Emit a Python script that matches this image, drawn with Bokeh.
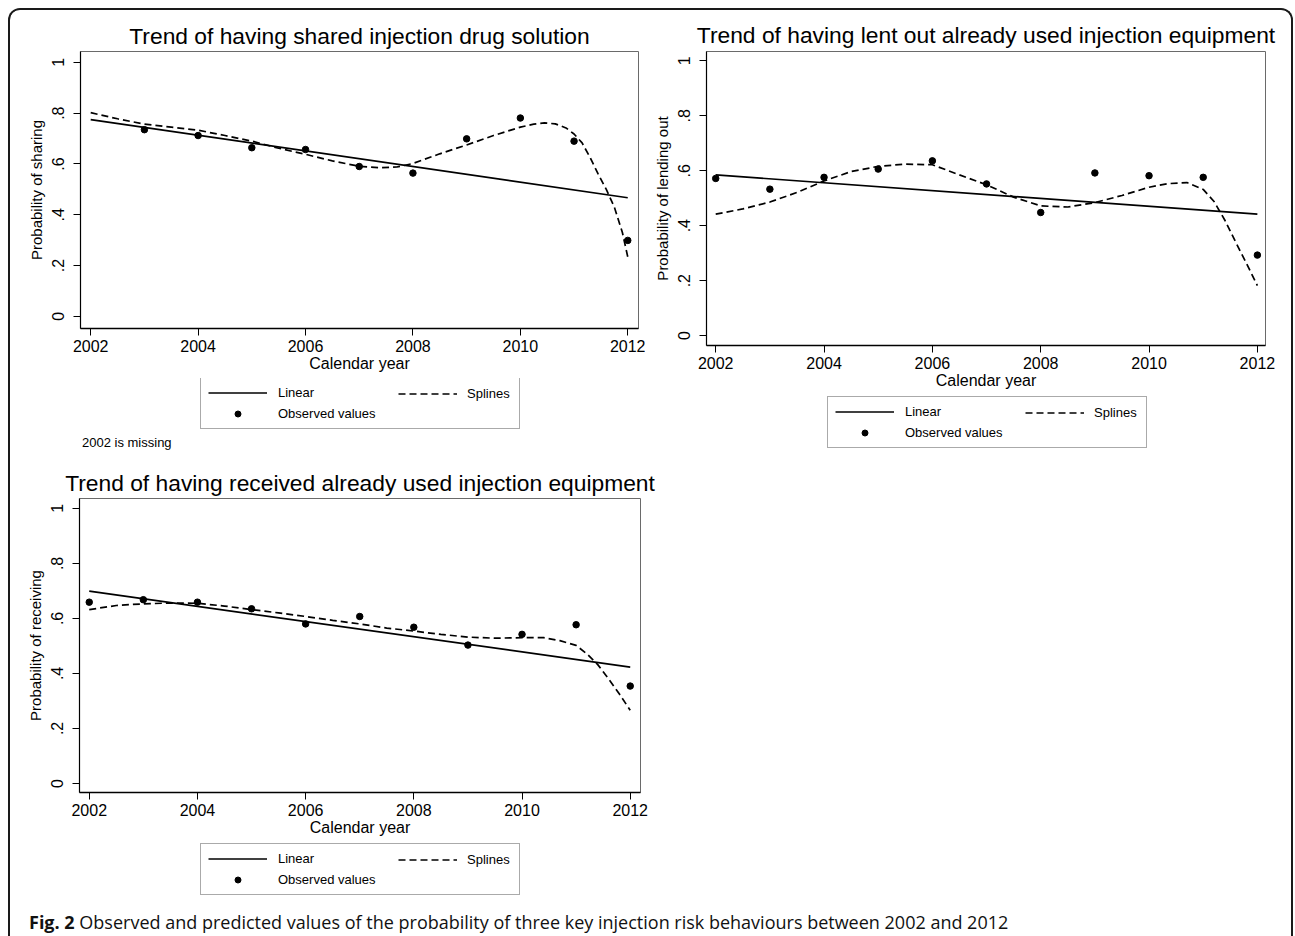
from bokeh.plotting import figure
from bokeh.models import Range1d, FixedTicker, Legend, LegendItem, Div
from bokeh.layouts import column, row
from bokeh.embed import file_html
from bokeh.resources import INLINE

# ---------------- data ----------------
x_ticks = [2002, 2004, 2006, 2008, 2010, 2012]
y_ticks = [0, 0.2, 0.4, 0.6, 0.8, 1]
y_tick_labels = ["0", ".2", ".4", ".6", ".8", "1"]

titles = [
    "Trend of having shared injection drug solution",
    "Trend of having lent out already used injection equipment",
    "Trend of having received already used injection equipment",
]
y_labels = ["Probability of sharing", "Probability of lending out", "Probability of receiving"]
x_label = "Calendar year"
legend_labels = ["Linear", "Splines", "Observed values"]
note_text = "2002 is missing"
caption_bold = "Fig. 2"
caption_text = ("Observed and predicted values of the probability of three key injection "
                "risk behaviours between 2002 and 2012")

# Panel 1: shared injection drug solution (2002 missing)
share_obs_years = [2003, 2004, 2005, 2006, 2007, 2008, 2009, 2010, 2011, 2012]
share_obs = [0.735, 0.712, 0.664, 0.657, 0.590, 0.564, 0.699, 0.781, 0.690, 0.299]
share_lin_years = [2002, 2012]
share_lin = [0.775, 0.467]
share_spl_years = [2002.0, 2002.5, 2003.0, 2003.5, 2004.0, 2004.5, 2005.0, 2005.5, 2006.0,
                   2006.5, 2007.0, 2007.4, 2007.7, 2008.0, 2008.5, 2009.0, 2009.5, 2010.0,
                   2010.25, 2010.45, 2010.65, 2010.85, 2011.0, 2011.15, 2011.3, 2011.45,
                   2011.6, 2011.75, 2011.9, 2012.0]
share_spl = [0.802, 0.778, 0.757, 0.745, 0.733, 0.712, 0.690, 0.662, 0.638,
             0.612, 0.591, 0.585, 0.588, 0.602, 0.640, 0.675, 0.712, 0.745,
             0.757, 0.762, 0.758, 0.742, 0.718, 0.683, 0.625, 0.560,
             0.500, 0.430, 0.330, 0.234]

# Panel 2: lent out already used injection equipment
lend_obs_years = [2002, 2003, 2004, 2005, 2006, 2007, 2008, 2009, 2010, 2011, 2012]
lend_obs = [0.572, 0.533, 0.576, 0.606, 0.636, 0.552, 0.448, 0.592, 0.582, 0.576, 0.293]
lend_lin_years = [2002, 2012]
lend_lin = [0.585, 0.442]
lend_spl_years = [2002.0, 2002.5, 2003.0, 2003.5, 2004.0, 2004.5, 2005.0, 2005.5, 2006.0,
                  2006.5, 2007.0, 2007.5, 2008.0, 2008.5, 2009.0, 2009.5, 2010.0, 2010.35,
                  2010.7, 2011.0, 2011.2, 2011.4, 2011.6, 2011.8, 2012.0]
lend_spl = [0.442, 0.461, 0.486, 0.521, 0.563, 0.597, 0.616, 0.624, 0.622,
            0.585, 0.549, 0.504, 0.472, 0.468, 0.484, 0.510, 0.540, 0.553,
            0.557, 0.532, 0.488, 0.420, 0.340, 0.262, 0.182]

# Panel 3: received already used injection equipment
recv_obs_years = [2002, 2003, 2004, 2005, 2006, 2007, 2008, 2009, 2010, 2011, 2012]
recv_obs = [0.659, 0.668, 0.659, 0.635, 0.580, 0.607, 0.568, 0.503, 0.542, 0.577, 0.354]
recv_lin_years = [2002, 2012]
recv_lin = [0.699, 0.423]
recv_spl_years = [2002.0, 2002.5, 2003.0, 2003.5, 2004.0, 2004.5, 2005.0, 2005.5, 2006.0,
                  2006.5, 2007.0, 2007.5, 2008.0, 2008.5, 2009.0, 2009.5, 2010.0, 2010.4,
                  2010.7, 2011.0, 2011.2, 2011.4, 2011.6, 2011.8, 2012.0]
recv_spl = [0.632, 0.647, 0.653, 0.656, 0.655, 0.645, 0.632, 0.620, 0.607,
            0.593, 0.580, 0.565, 0.554, 0.542, 0.532, 0.528, 0.530, 0.530,
            0.519, 0.502, 0.471, 0.432, 0.380, 0.325, 0.266]

FONT = "Liberation Sans"
LIN_STYLE = dict(line_color="black", line_width=1.7)
SPL_STYLE = dict(line_color="black", line_width=1.7, line_dash="7 4")
OBS_STYLE = dict(size=6.5, color="black")


def make_plot(title, ylabel, ox, oy, lx, ly, sx, sy, xr, yr, width, height,
              mbl, mbr, mbt, mbb, title_standoff):
    p = figure(width=width, height=height, x_range=Range1d(*xr), y_range=Range1d(*yr),
               output_backend="svg", toolbar_location=None,
               min_border_left=mbl, min_border_right=mbr,
               min_border_top=mbt, min_border_bottom=mbb,
               background_fill_color="white", border_fill_color="white")
    p.outline_line_color = "#6a6a6a"
    p.outline_line_width = 1
    p.grid.visible = False

    p.title.text = title
    p.title.align = "center"
    p.title.text_font = FONT
    p.title.text_font_size = "22.8px"
    p.title.text_font_style = "normal"
    p.title.text_color = "black"
    p.title.standoff = title_standoff

    xa = p.xaxis[0]
    xa.ticker = FixedTicker(ticks=x_ticks, minor_ticks=[])
    xa.axis_label = x_label
    xa.axis_label_text_font = FONT
    xa.axis_label_text_font_size = "16px"
    xa.axis_label_text_font_style = "normal"
    xa.axis_label_standoff = 0
    xa.major_label_text_font = FONT
    xa.major_label_text_font_size = "16px"
    xa.major_label_standoff = 4
    xa.major_tick_out = 7
    xa.major_tick_in = 0
    xa.minor_tick_out = 0
    xa.axis_line_width = 1.5
    xa.axis_line_color = "black"
    xa.major_tick_line_color = "black"
    xa.major_label_text_color = "black"
    xa.axis_label_text_color = "black"

    ya = p.yaxis[0]
    ya.ticker = FixedTicker(ticks=y_ticks, minor_ticks=[])
    ya.major_label_overrides = {t: l for t, l in zip(y_ticks, y_tick_labels)}
    ya.major_label_orientation = "vertical"
    ya.axis_label = ylabel
    ya.axis_label_text_font = FONT
    ya.axis_label_text_font_size = "15px"
    ya.axis_label_text_font_style = "normal"
    ya.axis_label_standoff = 5
    ya.major_label_text_font = FONT
    ya.major_label_text_font_size = "16px"
    ya.major_label_standoff = 9
    ya.major_tick_out = 7
    ya.major_tick_in = 0
    ya.minor_tick_out = 0
    ya.axis_line_width = 1.2
    ya.axis_line_color = "black"
    ya.major_tick_line_color = "black"
    ya.major_label_text_color = "black"
    ya.axis_label_text_color = "black"

    p.line(lx, ly, **LIN_STYLE)
    p.line(sx, sy, **SPL_STYLE)
    p.scatter(ox, oy, **OBS_STYLE)
    return p


def make_legend(width, height, loc_a, loc_b, ox, oy, lx, ly, sx, sy):
    # A strip under each panel that only shows the legend. The same series are
    # attached (outside this strip's visible range) so the keys carry their styles.
    lf = figure(width=width, height=height, x_range=Range1d(0, 1), y_range=Range1d(0, 1),
                output_backend="svg", toolbar_location=None,
                x_axis_location=None, y_axis_location=None,
                min_border_left=0, min_border_right=0, min_border_top=0, min_border_bottom=0,
                background_fill_color="white", border_fill_color="white")
    lf.title.visible = False
    lf.outline_line_color = None
    lf.grid.visible = False
    k_lin = lf.line(lx, ly, **LIN_STYLE)
    k_spl = lf.line(sx, sy, **SPL_STYLE)
    k_obs = lf.scatter(ox, oy, **OBS_STYLE)

    common = dict(orientation="vertical", glyph_width=59, glyph_height=15,
                  label_height=15, spacing=6, margin=0, padding=7,
                  label_text_font=FONT, label_text_font_size="13px",
                  label_text_color="black")
    la = Legend(items=[LegendItem(label=legend_labels[0], renderers=[k_lin]),
                       LegendItem(label=legend_labels[2], renderers=[k_obs])],
                location=loc_a, label_width=234, label_standoff=11,
                border_line_color="#555555", border_line_width=1,
                background_fill_color="white", background_fill_alpha=1, **common)
    lb = Legend(items=[LegendItem(label=legend_labels[1], renderers=[k_spl])],
                location=loc_b, label_standoff=10,
                border_line_alpha=0, background_fill_alpha=0, **common)
    lf.add_layout(la)
    lf.add_layout(lb)
    return lf


p1 = make_plot(titles[0], y_labels[0], share_obs_years, share_obs, share_lin_years, share_lin,
               share_spl_years, share_spl, (2001.81, 2012.20), (-0.048, 1.043),
               635, 368, 70, 7, 41, 50, 6)
l1 = make_legend(635, 54, (120, 3), (311, 24), share_obs_years, share_obs,
                 share_lin_years, share_lin, share_spl_years, share_spl)
note1 = Div(text=('<div style="font-family:\'Liberation Sans\';font-size:13px;line-height:20px;'
                  f'color:black;padding:1px 0 0 72px;white-space:nowrap;">{note_text}</div>'),
            width=635, height=24, margin=0)

p2 = make_plot(titles[1], y_labels[1], lend_obs_years, lend_obs, lend_lin_years, lend_lin,
               lend_spl_years, lend_spl, (2001.83, 2012.15), (-0.036, 1.034),
               646, 385, 61, 26, 41, 50, 7)
l2 = make_legend(646, 61, (121, 8), (312, 29), lend_obs_years, lend_obs,
                 lend_lin_years, lend_lin, lend_spl_years, lend_spl)

p3 = make_plot(titles[2], y_labels[2], recv_obs_years, recv_obs, recv_lin_years, recv_lin,
               recv_spl_years, recv_spl, (2001.82, 2012.19), (-0.033, 1.036),
               650, 386, 69, 20, 42, 50, 5)
l3 = make_legend(650, 56, (121, 3), (312, 24), recv_obs_years, recv_obs,
                 recv_lin_years, recv_lin, recv_spl_years, recv_spl)

caption = Div(
    text=('<div style="font-family:\'Open Sans\';font-size:18px;line-height:22px;'
          'color:#111;padding:13px 0 0 19px;white-space:nowrap;">'
          f'<b>{caption_bold}</b> {caption_text}</div>'),
    width=1281, height=38, margin=0, styles={"overflow": "hidden"})

layout = column(row(column(p1, l1, note1), column(p2, l2)), column(p3, l3), caption,
                width=1285, height=928,
                styles={"border": "2px solid #1a1a1a", "border-bottom": "none",
                        "border-radius": "12px 12px 0 0", "background": "white",
                        "box-sizing": "border-box", "margin-left": "8px",
                        "margin-top": "8px", "overflow": "hidden"})

open("out.html", "w").write(file_html(layout, INLINE))
